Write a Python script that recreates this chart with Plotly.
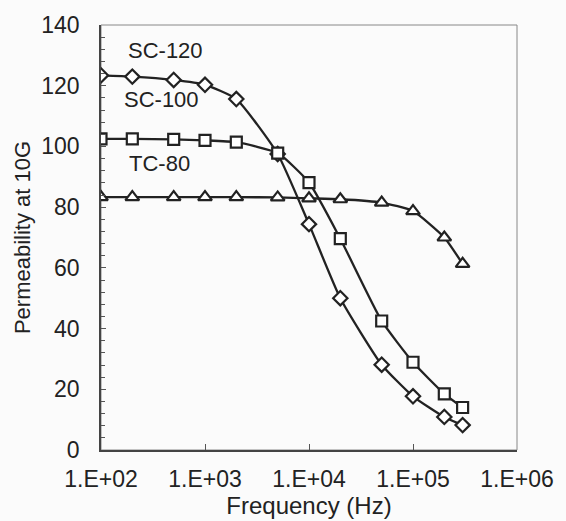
import math
import plotly.graph_objects as go

freq = [100, 200, 500, 1000, 2000, 5000, 10000, 20000, 50000, 100000, 200000, 300000]
sc120 = [123.4, 123.0, 121.9, 120.3, 115.6, 97.5, 74.4, 50.0, 28.1, 17.7, 10.9, 8.2]
sc100 = [102.5, 102.5, 102.3, 102.0, 101.4, 97.8, 88.1, 69.6, 42.5, 28.9, 18.5, 14.0]
tc80 = [83.3, 83.3, 83.3, 83.3, 83.3, 83.2, 82.9, 82.6, 81.5, 78.7, 70.0, 61.3]

x_tickvals = [1e2, 1e3, 1e4, 1e5, 1e6]
x_ticktext = ["1.E+02", "1.E+03", "1.E+04", "1.E+05", "1.E+06"]

series_labels = ["SC-120", "SC-100", "TC-80"]
label_x = [420, 380, 365]
label_y = [131.5, 115.5, 94.5]

FONT = "Liberation Sans, Arial, sans-serif"
LC = "#222222"
FS = 23

fig = go.Figure()
for y, sym, size in [(sc120, "diamond", 11), (sc100, "square", 11), (tc80, "triangle-up", 12)]:
    fig.add_trace(go.Scatter(
        x=freq, y=y, mode="lines+markers",
        line=dict(color=LC, width=2.3, shape="spline", smoothing=0.5),
        marker=dict(symbol=sym, size=size, color="white",
                    line=dict(color=LC, width=2.2)),
        showlegend=False,
    ))

# series labels (annotation x on a log axis is given in log10 units)
for t, lx, ly in zip(series_labels, label_x, label_y):
    fig.add_annotation(x=math.log10(lx), y=ly, xref="x", yref="y", text=t, showarrow=False,
                       font=dict(family=FONT, size=FS - 1, color=LC))

fig.update_layout(
    width=566, height=521,
    margin=dict(l=101, r=44, t=22, b=71),
    paper_bgcolor="#fbfbfb", plot_bgcolor="#fbfbfb",
    font=dict(family=FONT, size=FS, color=LC),
    xaxis=dict(type="log", range=[2, 6], tickvals=x_tickvals, ticktext=x_ticktext,
               ticks="inside", ticklen=6, tickcolor="#555", showgrid=False, zeroline=False,
               showline=True, linecolor="#444", linewidth=1.5, mirror=False,
               ticklabelstandoff=8,
               title=dict(text="Frequency (Hz)", font=dict(size=24), standoff=0)),
    yaxis=dict(range=[0, 140], dtick=20, ticks="inside", ticklen=5, tickcolor="#555",
               showgrid=False, zeroline=False, showline=True, linecolor="#444", linewidth=1.5,
               minor=dict(dtick=4, ticks="inside", ticklen=4, tickcolor="#555", showgrid=False),
               ticklabelstandoff=15,
               title=dict(text="Permeability at 10G", font=dict(size=22), standoff=5)),
)

# frame (top/right)
fig.add_shape(type="rect", xref="paper", yref="paper", x0=0, y0=0, x1=1, y1=1,
              line=dict(color="#888", width=1), layer="below")

fig.write_html("out.html")
